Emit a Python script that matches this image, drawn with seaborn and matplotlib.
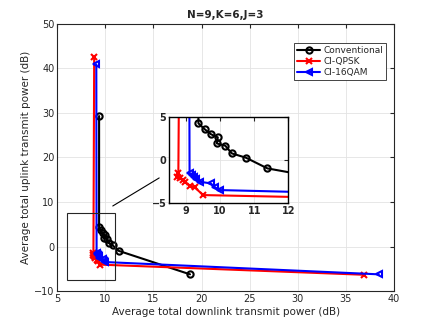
import matplotlib
matplotlib.use('Agg')
import matplotlib.pyplot as plt
import seaborn as sns
from matplotlib.patches import Rectangle

# values
conv_x = [9.36, 9.36, 9.54, 9.73, 9.93, 9.90, 10.15, 10.34, 10.76, 11.39, 18.8]
conv_y = [29.3, 4.27, 3.6, 3.0, 2.64, 1.94, 1.67, 0.78, 0.27, -0.97, -6.25]
qpsk_x = [8.85, 8.77, 8.74, 8.82, 8.90, 8.96, 9.11, 9.25, 9.50, 36.9]
qpsk_y = [42.5, -1.55, -1.94, -2.13, -2.33, -2.52, -3.02, -3.18, -4.07, -6.35]
qam_x = [9.07, 9.10, 9.17, 9.22, 9.30, 9.40, 9.72, 9.85, 10.0, 38.4]
qam_y = [40.9, -1.55, -1.74, -1.94, -2.20, -2.52, -2.71, -3.18, -3.49, -6.25]

series = [
    ('Conventional', conv_x, conv_y, 'black', 'o'),
    ('CI-QPSK', qpsk_x, qpsk_y, 'red', 'x'),
    ('CI-16QAM', qam_x, qam_y, 'blue', '<'),
]

sns.set_style('whitegrid')
plt.rcParams['font.family'] = ['DejaVu Sans']

fig = plt.figure(figsize=(4.36, 3.27), dpi=100)
ax = fig.add_axes([0.131, 0.110, 0.773, 0.817])

for name, xs, ys, col, mk in series:
    sns.lineplot(x=xs, y=ys, ax=ax, sort=False, estimator=None, color=col,
                 marker=mk, markersize=4.5, mfc='none', mec=col, mew=1.5,
                 lw=1.5, label=name)

ax.set_xlim(5, 40)
ax.set_ylim(-10, 50)
ax.set_xticks(range(5, 41, 5))
ax.set_yticks(range(-10, 51, 10))
ax.grid(True, color='#e3e3e3', lw=0.6)
for s in ax.spines.values():
    s.set_color('#262626')
    s.set_linewidth(0.8)
ax.tick_params(direction='in', length=3, labelsize=7, top=True, right=True,
               colors='#262626', pad=2)
ax.set_xlabel('Average total downlink transmit power (dB)', fontsize=7.5,
              color='#262626', labelpad=2)
ax.set_ylabel('Average total uplink transmit power (dB)', fontsize=7.5,
              color='#262626', labelpad=2)
ax.set_title('N=9,K=6,J=3', fontsize=7.5, fontweight='bold', pad=4)

leg = ax.legend(loc='upper right', bbox_to_anchor=(0.975, 0.928), fontsize=6.5,
                frameon=True, fancybox=False, edgecolor='#262626',
                borderpad=0.3, labelspacing=0.25, handlelength=2.6,
                handletextpad=0.3, borderaxespad=0)
leg.get_frame().set_linewidth(0.6)
leg.get_frame().set_alpha(1)

# zoom box and connector
ax.add_patch(Rectangle((6, -7.5), 5, 15, fill=False, ec='#262626', lw=0.8, zorder=5))
ax.plot([10.78, 15.6], [9.1, 15.4], color='black', lw=0.8)

# inset
axi = fig.add_axes([0.388, 0.379, 0.273, 0.263])
for name, xs, ys, col, mk in series:
    sns.lineplot(x=xs, y=ys, ax=axi, sort=False, estimator=None, color=col,
                 marker=mk, markersize=4.5, mfc='none', mec=col, mew=1.5,
                 lw=1.5, legend=False)
axi.set_xlim(8.5, 12)
axi.set_ylim(-5, 5)
axi.set_xticks([9, 10, 11, 12])
axi.set_yticks([-5, 0, 5])
axi.grid(True, color='#e3e3e3', lw=0.6)
axi.set_facecolor('white')
for s in axi.spines.values():
    s.set_color('black')
    s.set_linewidth(1.0)
axi.tick_params(direction='in', length=3, labelsize=7, top=True, right=True, pad=2)
for t in axi.get_xticklabels() + axi.get_yticklabels():
    t.set_fontweight('bold')

fig.savefig('out.png', dpi=100)
